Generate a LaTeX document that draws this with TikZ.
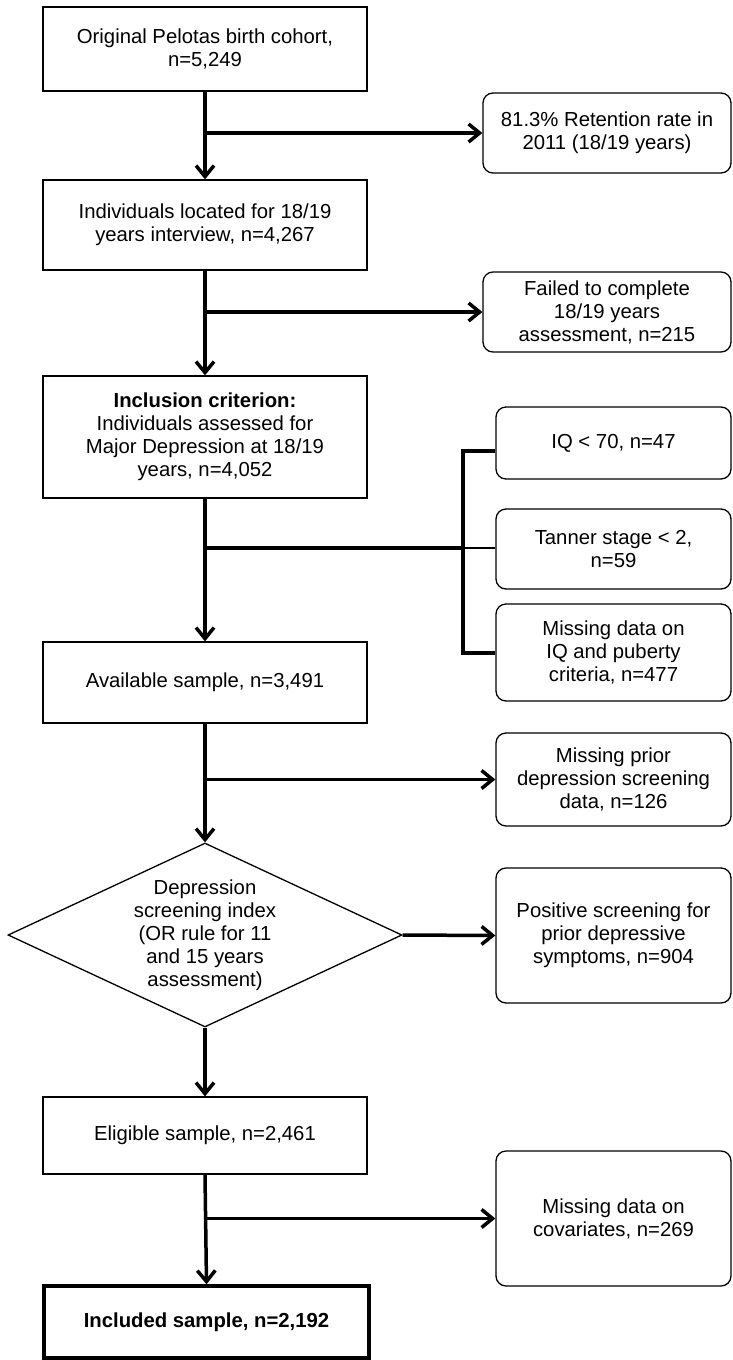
\documentclass[tikz,border=0pt]{standalone}
\usepackage{fontspec}
\setmainfont{Liberation Sans}
\usetikzlibrary{arrows.meta,shapes.geometric}

\colorlet{colorBox}{black}
\colorlet{colorFlow}{black}
\tikzset{
   every path/.style={>={Straight Barb[length=11pt,width=18pt]}},
   txt/.style={font=\fontsize{20.3}{23}\selectfont,align=center},
   stage/.style={txt,draw=colorBox,line width=1.3pt,inner sep=0pt,minimum width=324pt},
   excl/.style={txt,draw=colorBox,line width=1.3pt,inner sep=0pt,rounded corners=10pt,minimum width=248pt},
   excl2/.style={excl,minimum width=235pt},
   decide/.style={txt,draw=colorBox,line width=1.3pt,diamond,aspect=2.14,inner sep=0pt,minimum width=394pt,minimum height=184pt},
   fin/.style={stage,line width=3.5pt,minimum width=325pt},
   flow/.style={->,color=colorFlow,line width=3.5pt},
   brk/.style={color=colorFlow,line width=3.5pt},
}
\newcommand{\dflow}[2]{\draw[flow] (#1.south) -- (#2.north)}
\newcommand{\dex}[2]{\draw[flow] (#1.south |- #2.west) -- (#2.west)}

\begin{document}
\begin{tikzpicture}[x=1pt,y=-1pt]
      \useasboundingbox (0,0) rectangle (732,1360);

      \node[stage,minimum height=84pt] (B1) at (205,49) {Original Pelotas birth cohort,\\ n=5,249};
      \node[excl,minimum height=80pt] (R1) at (607,133) {81.3\% Retention rate in\\ 2011 (18/19 years)};
      \node[stage,minimum height=90pt] (B2) at (205,225) {Individuals located for 18/19\\ years interview, n=4,267};
      \dflow{B1}{B2};
      \dex{B1}{R1};

      \node[excl,minimum height=80pt] (R2) at (607,312) {Failed to complete\\ 18/19 years\\ assessment, n=215};
      \node[stage,minimum height=122pt] (B3) at (205,437) {\textbf{Inclusion criterion:}\\ Individuals assessed for\\ Major Depression at 18/19\\ years, n=4,052};
      \dflow{B2}{B3};
      \dex{B2}{R2};

      % exclusions at 18/19 years
      \node[excl2,minimum height=72pt] (R3a) at (613.5,443) {IQ < 70, n=47};
      \node[excl2,minimum height=80pt] (R3b) at (613.5,549) {Tanner stage < 2,\\ n=59};
      \node[excl2,minimum height=97pt] (R3c) at (613.5,652.5) {Missing data on\\ IQ and puberty\\ criteria, n=477};
      \node[stage,minimum height=81pt] (B4) at (205,682.5) {Available sample, n=3,491};
      \dflow{B3}{B4};
      \coordinate (K) at (463,548);
      \coordinate (Ka) at (463,451);
      \coordinate (Kc) at (463,653);
      \draw[brk] (B3.south |- K) -- (K);
      \draw[brk] (Ka -| R3a.west) -- (Ka) -- (Kc) -- (Kc -| R3c.west);
      \draw[brk,line width=2pt] (K) -- (K -| R3b.west);

      \node[excl2,minimum height=93pt] (R4) at (613.5,779.5) {Missing prior\\ depression screening\\ data, n=126};
      \node[decide] (D) at (205,935) {Depression\\ screening index\\ (OR rule for 11\\ and 15 years\\ assessment)};
      \dflow{B4}{D};
      \dex{B4}{R4};

      \node[excl2,minimum height=135pt] (R5) at (613.5,935.5) {Positive screening for\\ prior depressive\\ symptoms, n=904};
      \draw[flow] (D.east) -- (R5.west);
      \node[stage,minimum height=77pt] (B5) at (205,1135.5) {Eligible sample, n=2,461};
      \dflow{D}{B5};

      \node[excl2,minimum height=135pt] (R6) at (613.5,1218.5) {Missing data on\\ covariates, n=269};
      \node[fin,minimum height=72pt] (B6) at (206.5,1322) {\textbf{Included sample, n=2,192}};
      \dflow{B5}{B6};
      \dex{B5}{R6};
\end{tikzpicture}
\end{document}
